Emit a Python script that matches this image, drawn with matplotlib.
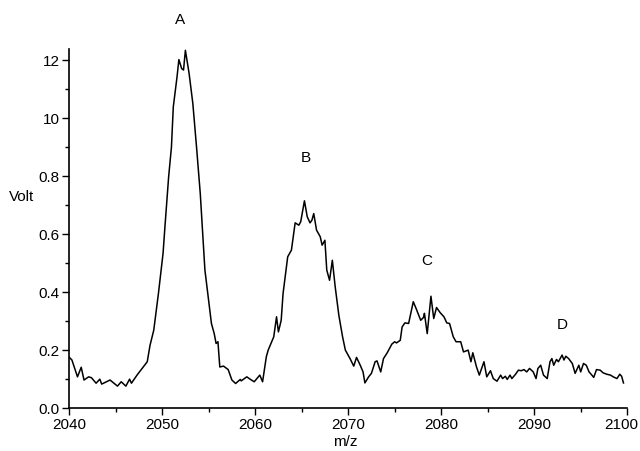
import matplotlib
matplotlib.use("Agg")
import matplotlib.pyplot as plt
import matplotlib.transforms as mtransforms
from matplotlib.ticker import MultipleLocator

plt.rcParams['font.family'] = ['Liberation Sans', 'DejaVu Sans']

# spectrum (m/z, Volt)
mz = [2040.0, 2040.3, 2040.9, 2041.3, 2041.6, 2042.1, 2042.4, 2042.9, 2043.3, 2043.5,
      2044.4, 2045.2, 2045.6, 2046.1, 2046.5, 2046.7, 2047.3, 2048.4, 2048.7, 2049.1,
      2049.6, 2050.1, 2050.3, 2050.7, 2051.0, 2051.2, 2051.6, 2051.8, 2052.1, 2052.3,
      2052.5, 2052.9, 2053.3, 2053.7, 2054.1, 2054.5, 2054.6, 2055.0, 2055.3, 2055.6,
      2055.8, 2056.0, 2056.2, 2056.6, 2057.1, 2057.5, 2057.9, 2058.4, 2058.5, 2059.1,
      2059.5, 2059.9, 2060.5, 2060.8, 2061.2, 2061.4, 2062.0, 2062.3, 2062.5, 2062.8,
      2063.0, 2063.5, 2063.9, 2064.3, 2064.7, 2064.9, 2065.3, 2065.6, 2065.9, 2066.1,
      2066.3, 2066.6, 2067.0, 2067.2, 2067.5, 2067.7, 2068.0, 2068.3, 2068.6, 2069.0,
      2069.4, 2069.7, 2070.2, 2070.6, 2070.9, 2071.3, 2071.6, 2071.8, 2072.2, 2072.5,
      2072.9, 2073.1, 2073.5, 2073.8, 2074.2, 2074.7, 2075.0, 2075.2, 2075.6, 2075.8,
      2076.1, 2076.5, 2077.0, 2077.3, 2077.8, 2078.1, 2078.2, 2078.5, 2078.9, 2079.2,
      2079.5, 2079.9, 2080.3, 2080.6, 2080.9, 2081.3, 2081.6, 2082.1, 2082.4, 2082.9,
      2083.2, 2083.4, 2083.8, 2084.1, 2084.6, 2084.9, 2085.3, 2085.6, 2086.0, 2086.4,
      2086.6, 2086.9, 2087.1, 2087.4, 2087.6, 2088.0, 2088.3, 2088.6, 2088.9, 2089.2,
      2089.5, 2089.9, 2090.2, 2090.4, 2090.7, 2091.0, 2091.4, 2091.7, 2091.9, 2092.1,
      2092.4, 2092.6, 2093.0, 2093.2, 2093.4, 2093.7, 2094.1, 2094.4, 2094.8, 2095.0,
      2095.3, 2095.6, 2095.9, 2096.2, 2096.4, 2096.7, 2097.1, 2097.4, 2097.8, 2098.2,
      2098.5, 2098.9, 2099.2, 2099.4, 2099.6]
volt = [0.176, 0.166, 0.108, 0.141, 0.097, 0.108, 0.105, 0.086, 0.100, 0.083,
        0.097, 0.076, 0.091, 0.076, 0.100, 0.086, 0.114, 0.160, 0.217, 0.269,
        0.395, 0.534, 0.625, 0.798, 0.900, 1.039, 1.142, 1.202, 1.171, 1.166,
        1.234, 1.154, 1.051, 0.900, 0.740, 0.530, 0.476, 0.372, 0.292, 0.257,
        0.223, 0.229, 0.142, 0.145, 0.133, 0.097, 0.085, 0.099, 0.094, 0.108,
        0.099, 0.091, 0.114, 0.091, 0.177, 0.200, 0.246, 0.315, 0.263, 0.303,
        0.395, 0.522, 0.545, 0.639, 0.631, 0.643, 0.715, 0.660, 0.639, 0.648,
        0.671, 0.614, 0.591, 0.562, 0.579, 0.476, 0.441, 0.510, 0.420, 0.320,
        0.246, 0.200, 0.171, 0.145, 0.175, 0.148, 0.125, 0.087, 0.108, 0.120,
        0.160, 0.163, 0.125, 0.171, 0.191, 0.221, 0.229, 0.225, 0.234, 0.280,
        0.294, 0.292, 0.367, 0.344, 0.303, 0.313, 0.327, 0.257, 0.386, 0.309,
        0.347, 0.329, 0.315, 0.294, 0.292, 0.246, 0.229, 0.229, 0.194, 0.200,
        0.160, 0.191, 0.142, 0.114, 0.160, 0.108, 0.129, 0.102, 0.093, 0.114,
        0.102, 0.110, 0.099, 0.114, 0.102, 0.117, 0.131, 0.129, 0.133, 0.125,
        0.137, 0.125, 0.102, 0.137, 0.148, 0.114, 0.102, 0.160, 0.171, 0.148,
        0.168, 0.160, 0.183, 0.166, 0.179, 0.171, 0.154, 0.120, 0.148, 0.125,
        0.154, 0.148, 0.125, 0.114, 0.106, 0.133, 0.131, 0.122, 0.117, 0.114,
        0.108, 0.102, 0.117, 0.110, 0.087]

peak_names = ['A', 'B', 'C', 'D']
peak_mz = [2051.9, 2065.5, 2078.4, 2093.0]
peak_y = [1.338, 0.862, 0.507, 0.286]

xticks = [2040, 2050, 2060, 2070, 2080, 2090, 2100]
yticks = [0.0, 0.2, 0.4, 0.6, 0.8, 1.0, 1.2]
ytick_labels = ['0.0', '0.2', '0.4', '0.6', '0.8', '10', '12']

fig = plt.figure(figsize=(6.4, 4.51), dpi=100)
ax = fig.add_axes([0.108, 0.095, 0.872, 0.796])

ax.plot(mz, volt, color='black', lw=1.1)

for name, x, y in zip(peak_names, peak_mz, peak_y):
    ax.text(x, y, name, ha='center', va='center', fontsize=11, clip_on=False)

ax.set_xlim(2040, 2100)
ax.set_ylim(0, 1.238)
ax.set_xticks(xticks)
ax.set_xticklabels([str(t) for t in xticks])
ax.xaxis.set_minor_locator(MultipleLocator(5))
ax.set_yticks(yticks)
ax.set_yticklabels(ytick_labels)
ax.yaxis.set_minor_locator(MultipleLocator(0.1))

for s in ['top', 'right']:
    ax.spines[s].set_visible(False)
for s in ['left', 'bottom']:
    ax.spines[s].set_linewidth(1.2)

ax.tick_params(which='major', direction='out', length=5, width=1, labelsize=11, pad=2)
ax.tick_params(which='minor', direction='out', length=3, width=1)

# last x label sits against the right edge, nudge it inward
last = ax.get_xticklabels()[-1]
last.set_transform(last.get_transform() + mtransforms.ScaledTranslation(-6 / 100, 0, fig.dpi_scale_trans))

fig.text(22 / 640, 1 - 197 / 451, 'Volt', ha='center', va='center', fontsize=11)
fig.text(345 / 640, 1 - 442 / 451, 'm/z', ha='center', va='center', fontsize=11)

fig.savefig('out.png', dpi=100)
